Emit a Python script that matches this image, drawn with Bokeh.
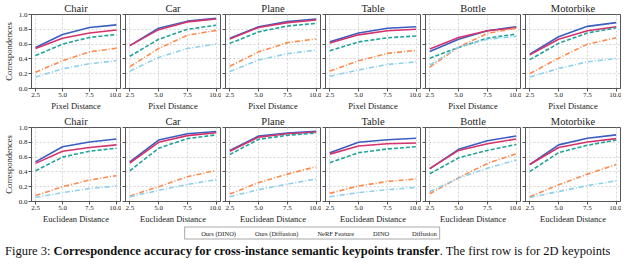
from bokeh.plotting import figure
from bokeh.layouts import column, row
from bokeh.models import Range1d, FixedTicker, PrintfTickFormatter, Legend, LegendItem, Div
from bokeh.embed import file_html
from bokeh.resources import INLINE

FONT = "Times"

categories = ["Chair", "Car", "Plane", "Table", "Bottle", "Motorbike"]
distances = [2.5, 5.0, 7.5, 10.0]
x_ticks = [2.5, 5.0, 7.5, 10.0]
y_ticks = [0.0, 0.2, 0.4, 0.6, 0.8, 1.0]
methods = ["Ours (DINO)", "Ours (Diffusion)", "NeRF Feature", "DINO", "Diffusion"]
row_xlabels = ["Pixel Distance", "Euclidean Distance"]

# Row 1: pixel distance (one list per category: Chair, Car, Plane, Table, Bottle, Motorbike)
px_ours_dino = [[0.555, 0.73, 0.825, 0.86], [0.58, 0.815, 0.91, 0.95], [0.68, 0.835, 0.905, 0.94],
                [0.63, 0.75, 0.815, 0.835], [0.50, 0.665, 0.78, 0.835], [0.465, 0.70, 0.84, 0.89]]
px_ours_diff = [[0.54, 0.68, 0.75, 0.79], [0.58, 0.795, 0.90, 0.94], [0.67, 0.825, 0.89, 0.925],
                [0.615, 0.725, 0.78, 0.80], [0.535, 0.69, 0.78, 0.82], [0.455, 0.665, 0.78, 0.835]]
px_nerf = [[0.445, 0.60, 0.69, 0.73], [0.435, 0.665, 0.80, 0.855], [0.61, 0.765, 0.845, 0.88],
           [0.51, 0.63, 0.685, 0.71], [0.41, 0.555, 0.68, 0.735], [0.39, 0.61, 0.75, 0.82]]
px_dino = [[0.22, 0.375, 0.495, 0.545], [0.295, 0.54, 0.72, 0.785], [0.30, 0.495, 0.62, 0.67],
           [0.235, 0.375, 0.475, 0.515], [0.29, 0.56, 0.745, 0.815], [0.20, 0.41, 0.60, 0.685]]
px_diffusion = [[0.155, 0.265, 0.335, 0.375], [0.235, 0.42, 0.54, 0.60], [0.23, 0.385, 0.47, 0.52],
                [0.165, 0.25, 0.325, 0.36], [0.315, 0.56, 0.665, 0.705], [0.155, 0.27, 0.36, 0.405]]

# Row 2: euclidean distance
eu_ours_dino = [[0.535, 0.74, 0.805, 0.845], [0.535, 0.83, 0.915, 0.945], [0.69, 0.885, 0.925, 0.95],
                [0.66, 0.80, 0.835, 0.855], [0.445, 0.705, 0.82, 0.885], [0.50, 0.765, 0.855, 0.90]]
eu_ours_diff = [[0.515, 0.68, 0.73, 0.765], [0.52, 0.80, 0.89, 0.93], [0.68, 0.87, 0.915, 0.94],
                [0.64, 0.75, 0.78, 0.79], [0.445, 0.69, 0.78, 0.845], [0.50, 0.73, 0.805, 0.85]]
eu_nerf = [[0.415, 0.60, 0.68, 0.72], [0.415, 0.72, 0.85, 0.90], [0.635, 0.84, 0.895, 0.925],
           [0.525, 0.66, 0.71, 0.74], [0.375, 0.59, 0.69, 0.77], [0.405, 0.66, 0.76, 0.83]]
eu_dino = [[0.08, 0.20, 0.29, 0.35], [0.075, 0.20, 0.335, 0.42], [0.10, 0.255, 0.37, 0.47],
           [0.11, 0.21, 0.27, 0.305], [0.105, 0.32, 0.515, 0.645], [0.065, 0.225, 0.37, 0.50]]
eu_diffusion = [[0.055, 0.12, 0.175, 0.21], [0.065, 0.15, 0.23, 0.295], [0.065, 0.16, 0.235, 0.305],
                [0.065, 0.12, 0.16, 0.19], [0.135, 0.315, 0.45, 0.56], [0.055, 0.135, 0.215, 0.28]]

rows_data = [
    [px_ours_dino, px_ours_diff, px_nerf, px_dino, px_diffusion],
    [eu_ours_dino, eu_ours_diff, eu_nerf, eu_dino, eu_diffusion],
]

colors = ["#3b5fc0", "#d6336c", "#1fa39a", "#ff8a4c", "#8fd0ec"]
dashes = ["solid", "solid", "4 2", "5 2 1 2", "5 2 1 2"]

AX = "#555555"


def make_panel(r, c):
    first = c == 0
    p = figure(
        width=(25 + 95 + 1) if first else (4 + 95 + 1),
        height=113,
        x_range=Range1d(2.125, 10.375),
        y_range=Range1d(0.0, 1.0),
        output_backend="svg",
        toolbar_location=None,
        min_border_left=25 if first else 4,
        min_border_right=1,
        min_border_top=0,
        min_border_bottom=0,
        title=categories[c],
    )
    p.title.align = "center"
    p.title.text_font = FONT
    p.title.text_font_style = "normal"
    p.title.text_font_size = "10.5px"
    p.title.text_color = "#222222"
    p.title.standoff = 1
    p.title.offset = 0

    p.outline_line_color = AX
    p.outline_line_width = 1
    p.background_fill_color = "white"
    p.border_fill_color = "white"

    for ax in (p.xaxis[0], p.yaxis[0]):
        ax.axis_line_color = AX
        ax.major_tick_line_color = AX
        ax.minor_tick_line_color = None
        ax.major_tick_in = 0
        ax.major_tick_out = 3
        ax.major_label_text_font = FONT
        ax.major_label_text_font_size = "7px"
        ax.major_label_text_color = "#222222"
        ax.axis_label_text_font = FONT
        ax.axis_label_text_font_style = "normal"
        ax.axis_label_text_font_size = "8.5px"
        ax.axis_label_text_color = "#222222"
        ax.major_label_standoff = 1
        ax.axis_label_standoff = 1

    p.xaxis.ticker = FixedTicker(ticks=x_ticks)
    p.xaxis.formatter = PrintfTickFormatter(format="%.1f")
    p.xaxis.axis_label = row_xlabels[r]
    p.ygrid.ticker = FixedTicker(ticks=y_ticks)
    if first:
        p.yaxis.ticker = FixedTicker(ticks=y_ticks)
        p.yaxis.formatter = PrintfTickFormatter(format="%.1f")
        p.yaxis.axis_label = "Correspondences"
        p.yaxis.axis_label_standoff = 2
    else:
        # tick marks only (minor ticks carry no labels)
        p.yaxis.ticker = FixedTicker(ticks=[], minor_ticks=y_ticks)
        p.yaxis.minor_tick_line_color = AX
        p.yaxis.minor_tick_in = 0
        p.yaxis.minor_tick_out = 3
        p.yaxis.major_label_standoff = 0

    p.xgrid.grid_line_color = "#d4d4d4"
    p.ygrid.grid_line_color = "#d4d4d4"
    p.xgrid.grid_line_dash = "2 2"
    p.ygrid.grid_line_dash = "2 2"

    for k in range(len(methods)):
        p.line(distances, rows_data[r][k][c], line_color=colors[k], line_width=1.6,
               line_dash=dashes[k])
    return p


rows_layout = []
for r in range(2):
    rows_layout.append(row(*[make_panel(r, c) for c in range(6)], spacing=0))

# legend strip
lg = figure(width=624, height=14, x_range=Range1d(0, 1), y_range=Range1d(0, 1),
            output_backend="svg", toolbar_location=None,
            min_border=0)
lg.axis.visible = False
lg.grid.visible = False
lg.outline_line_color = None
items = []
for k, m in enumerate(methods):
    rr = lg.line([], [], line_color=colors[k], line_width=1.6, line_dash=dashes[k])
    items.append(LegendItem(label=m, renderers=[rr]))
legend = Legend(items=items, orientation="horizontal", location="center",
                label_text_font=FONT, label_text_font_size="6.5px", label_text_color="#222222",
                glyph_width=11, glyph_height=7, label_height=7, label_standoff=3, spacing=5,
                padding=2, margin=0, border_line_color=AX, border_line_width=1,
                background_fill_alpha=1.0)
lg.add_layout(legend, "center")

caption = Div(
    text=('<div style="font-family: serif; font-size: 12.5px; '
          'line-height: 13px; white-space: nowrap; overflow: hidden; color: #111;">'
          'Figure 3: <b>Correspondence accuracy for cross-instance semantic keypoints transfer</b>. '
          'The first row is for 2D keypoints</div>'),
    width=624, height=12,
)

layout = column(rows_layout[0], rows_layout[1], lg, caption, spacing=0)

open("out.html", "w").write(file_html(layout, INLINE))
